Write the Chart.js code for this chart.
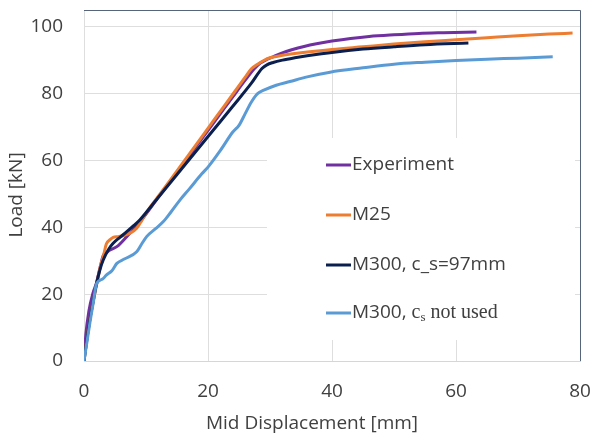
<!DOCTYPE html>
<html>
<head>
<meta charset="utf-8">
<script src="https://cdn.jsdelivr.net/npm/chart.js@4"></script>
<style>
  html, body { margin: 0; padding: 0; background: #fff; }
  #wrap { width: 592px; height: 437px; position: relative; }
</style>
</head>
<body>
<div id="wrap"><canvas id="grafico"></canvas></div>
<script>
// Dados (deslocamento [mm], carga [kN])
const expX = [0, 0.3, 0.8, 1.4, 2, 2.6, 3.1, 3.7, 4.2, 5.3, 6.9, 8, 9, 12, 15, 18, 21, 24, 26, 27.5, 28.5, 29.5, 30.5, 32, 33.5, 35.5, 37.5, 40, 43, 46, 50, 54, 58, 63.3];
const expY = [0, 8, 15, 20, 23.3, 28, 31.5, 32.5, 33.2, 34.2, 37.2, 39.5, 41.5, 49, 56.5, 64, 71.5, 79, 84, 87.5, 89.2, 90.2, 91, 92.2, 93.1, 94.1, 94.9, 95.7, 96.5, 97.1, 97.6, 98, 98.2, 98.4];

const m25X = [0, 0.5, 1, 1.5, 2, 2.6, 3.2, 3.6, 4.2, 4.7, 5.5, 6.5, 7.4, 8.5, 9.3, 10.1, 12, 15, 18, 21, 24, 26, 27, 28, 29, 30, 31.6, 35, 40, 45, 50, 55, 60, 65, 70, 75, 78.8];
const m25Y = [0, 7, 13, 18, 22.5, 28, 32, 35, 36.3, 37, 37.2, 37.6, 38.2, 39.7, 42, 44.5, 49.3, 56.9, 64.5, 72.2, 79.8, 84.9, 87.4, 88.8, 89.9, 90.7, 91.3, 92.2, 93.2, 94, 94.8, 95.5, 96.1, 96.7, 97.3, 97.8, 98.1];

const m300X = [0, 0.5, 1, 1.5, 2, 2.6, 3.1, 4, 4.7, 5.8, 6.9, 8, 9, 12, 15, 18, 21, 24, 27, 28.7, 29.5, 30.5, 32, 34, 36, 40, 45, 50, 55, 62];
const m300Y = [0, 7, 13, 18, 23, 27.5, 30.2, 33.5, 35.2, 37, 38.7, 40.5, 42.2, 49, 55.8, 62.6, 69.4, 76.2, 83.1, 87.5, 88.6, 89.3, 90, 90.7, 91.3, 92.3, 93.3, 94, 94.6, 95.1];

const semCsX = [0, 0.5, 1, 1.5, 2, 3, 3.6, 4.5, 5.3, 6.5, 8.5, 9.3, 10.1, 11.5, 12.8, 14, 15.5, 17, 19, 20, 22, 24, 25, 26, 27, 28, 29, 31, 33.2, 36, 39.7, 45, 50, 55, 60, 65, 70, 75.6];
const semCsY = [0, 6, 12, 17.5, 23, 24.5, 25.7, 27, 29.2, 30.5, 32.7, 35, 37.2, 39.5, 41.7, 44.5, 48.2, 51.5, 56, 58, 63, 68.5, 70.5, 74, 77.5, 80, 81, 82.5, 83.6, 85, 86.4, 87.7, 88.8, 89.4, 89.9, 90.3, 90.6, 91];

const rotulos = ["Experiment", "M25", "M300, c_s=97mm", "M300, c_s not used"];
const cores = ["#7030A0", "#ED7D31", "#0B1F4F", "#5B9BD5"];
const ticksY = [0, 20, 40, 60, 80, 100];
const ticksX = [0, 20, 40, 60, 80];

const fonte = "'Open Sans', 'DejaVu Sans', sans-serif";
const corTexto = "#404040";

function pontos(xs, ys) {
  return xs.map((x, i) => ({ x: x, y: ys[i] }));
}

const series = [
  pontos(expX, expY),
  pontos(m25X, m25Y),
  pontos(m300X, m300Y),
  pontos(semCsX, semCsY)
];

// Títulos dos eixos, legenda e moldura desenhados à mão
const extras = {
  id: "extras",
  afterDraw(chart) {
    const ctx = chart.ctx;
    const a = chart.chartArea;
    ctx.save();

    // títulos
    ctx.fillStyle = corTexto;
    ctx.font = "19px " + fonte;
    ctx.textAlign = "center";
    ctx.textBaseline = "middle";
    ctx.fillText("Mid Displacement [mm]", 312, 424);
    ctx.save();
    ctx.translate(17, 195);
    ctx.rotate(-Math.PI / 2);
    ctx.fillText("Load [kN]", 0, 0);
    ctx.restore();

    // legenda com fundo branco
    ctx.fillStyle = "#fff";
    ctx.fillRect(267, 138, 308, 202);
    const ys = [165, 215, 265, 313];
    ctx.textAlign = "left";
    rotulos.forEach((r, i) => {
      const y = ys[i];
      ctx.strokeStyle = cores[i];
      ctx.lineWidth = 3;
      ctx.beginPath();
      ctx.moveTo(326, y);
      ctx.lineTo(351, y);
      ctx.stroke();
      ctx.fillStyle = corTexto;
      ctx.font = "19px " + fonte;
      if (i < 3) {
        ctx.fillText(r, 352, y);
      } else {
        let x = 352;
        ctx.fillText("M300, ", x, y);
        x += ctx.measureText("M300, ").width;
        ctx.font = "20px 'Liberation Serif', 'DejaVu Serif', serif";
        ctx.fillText("c", x, y);
        x += ctx.measureText("c").width;
        ctx.font = "13px 'Liberation Serif', 'DejaVu Serif', serif";
        ctx.fillText("s", x, y + 5);
        x += ctx.measureText("s").width;
        ctx.font = "20px 'Liberation Serif', 'DejaVu Serif', serif";
        ctx.fillText(" not used", x, y);
      }
    });

    // moldura superior e direita
    ctx.strokeStyle = "#56657a";
    ctx.lineWidth = 1;
    ctx.beginPath();
    ctx.moveTo(a.left, a.top + 0.5);
    ctx.lineTo(a.right + 0.5, a.top + 0.5);
    ctx.lineTo(a.right + 0.5, a.bottom);
    ctx.stroke();
    ctx.restore();
  }
};

const ctx = document.getElementById("grafico").getContext("2d");

new Chart(ctx, {
  type: "line",
  data: {
    datasets: series.map((d, i) => ({
      label: rotulos[i],
      data: d,
      borderColor: cores[i],
      backgroundColor: cores[i],
      borderWidth: 3,
      pointRadius: 0,
      cubicInterpolationMode: "monotone",
      fill: false
    })).reverse()
  },
  options: {
    responsive: true,
    maintainAspectRatio: false,
    animation: false,
    layout: { padding: { top: 10, right: 12, left: 0, bottom: 0 } },
    plugins: {
      legend: { display: false },
      tooltip: { enabled: false }
    },
    scales: {
      x: {
        type: "linear",
        min: 0,
        max: 80,
        afterBuildTicks: (s) => { s.ticks = ticksX.map(v => ({ value: v })); },
        afterFit: (s) => { s.height = 76; s.paddingLeft = 0; s.paddingRight = 0; },
        grid: { color: "#dedede", drawTicks: false },
        border: { color: "#d6d6d6" },
        ticks: { padding: 19, color: corTexto, font: { family: fonte, size: 19 } }
      },
      y: {
        min: 0,
        max: 105,
        afterBuildTicks: (s) => { s.ticks = ticksY.map(v => ({ value: v })); },
        afterFit: (s) => { s.width = 84; s.paddingTop = 0; s.paddingBottom = 0; },
        grid: { color: "#dedede", drawTicks: false },
        border: { color: "#dedede" },
        ticks: { padding: 21, color: corTexto, font: { family: fonte, size: 19 } }
      }
    }
  },
  plugins: [extras]
});
</script>
</body>
</html>
